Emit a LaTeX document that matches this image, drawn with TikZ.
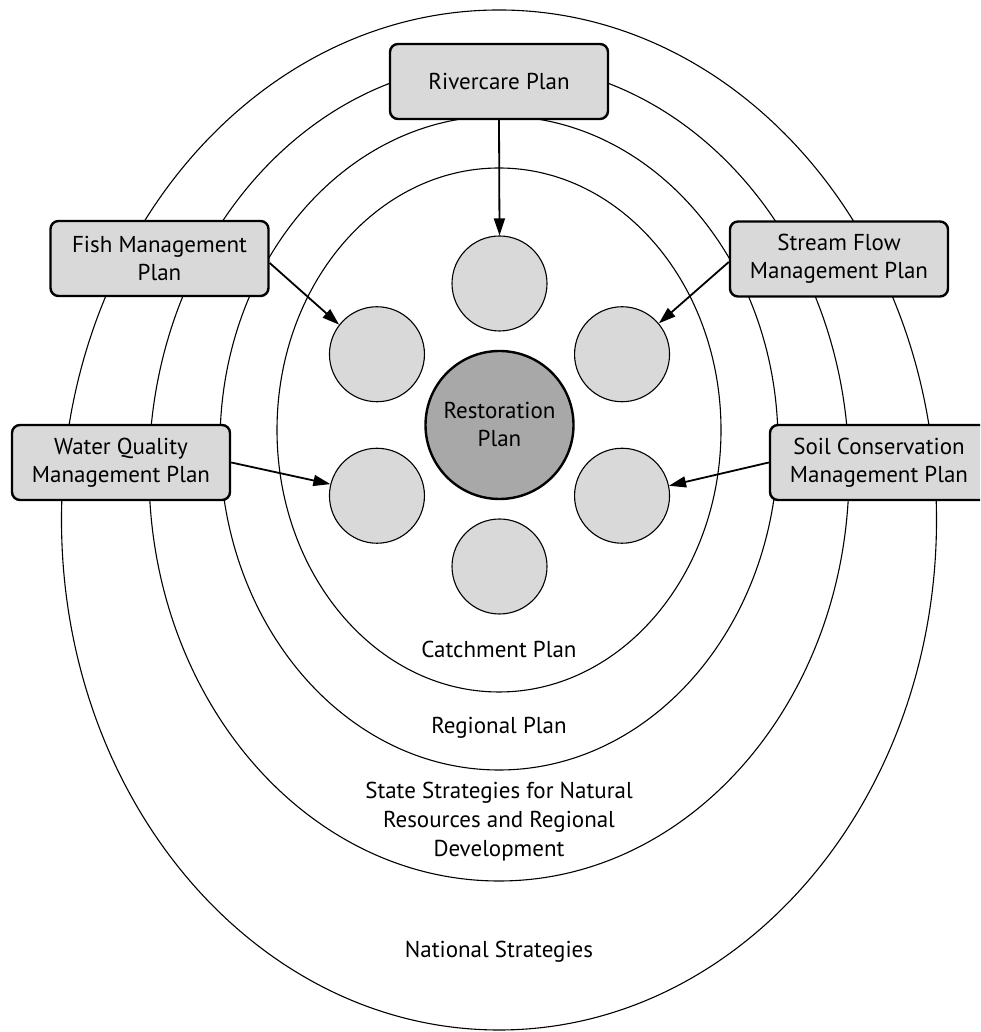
\documentclass[tikz,border=0pt]{standalone}
\usepackage{fontspec}
\setmainfont{PT Sans}
\usetikzlibrary{arrows.meta,calc}

\definecolor{boxgray}{HTML}{D9D9D9}
\definecolor{coregray}{HTML}{A8A8A8}

\tikzset{
  ring/.style={draw=black, line width=1.1pt},
  planbox/.style={draw=black, fill=boxgray, line width=2.4pt, rounded corners=8pt,
    minimum width=218pt, minimum height=75pt, align=center, inner sep=0pt,
    font=\fontsize{23}{28}\selectfont},
  spot/.style={circle, draw=black, fill=boxgray, line width=1.1pt, minimum size=95pt, inner sep=0pt},
  core/.style={circle, draw=black, fill=coregray, line width=2.4pt, minimum size=148pt, inner sep=0pt,
    align=center, font=\fontsize{23}{28}\selectfont},
  ringlabel/.style={align=center, inner sep=0pt, font=\fontsize{23}{29}\selectfont},
  feed/.style={line width=1.8pt, -{Triangle[length=17pt, width=11pt]}},
}

\begin{document}
\begin{tikzpicture}[x=1pt, y=1pt]
  \clip (0,0) rectangle (980,1032);
  \fill[white] (0,0) rectangle (980,1032);

  % nested planning levels
  \draw[ring] (499,512) ellipse [x radius=437.5, y radius=510];
  \draw[ring] (499,560) ellipse [x radius=350, y radius=409];
  \draw[ring] (499,589) ellipse [x radius=279, y radius=327];
  \draw[ring] (499,602) ellipse [x radius=222, y radius=262];

  % level labels
  \node[ringlabel] (catchlbl) at (499,383) {Catchment Plan};
  \node[ringlabel] (reglbl) at (499,304) {Regional Plan};
  \node[ringlabel] (statelbl) at (499,210) {State Strategies for Natural\\Resources and Regional\\Development};
  \node[ringlabel] (natlbl) at (499,80) {National Strategies};

  % restoration plan and its components
  \node[core] (rest) at (499.5,607) {Restoration\\Plan};
  \foreach \ang/\nm in {90/ctop, 150/cul, 210/cll, 270/cbot, 330/clr, 30/cur}
    \node[spot] (\nm) at ($(499.5,607)+(\ang:141.5)$) {};

  % contributing plans
  \node[planbox] (river) at (499,950.5) {Rivercare Plan};
  \node[planbox] (fish) at (159.5,773.5) {Fish Management\\Plan};
  \node[planbox] (stream) at (839,773) {Stream Flow\\Management Plan};
  \node[planbox] (water) at (121,569.5) {Water Quality\\Management Plan};
  \node[planbox] (soil) at (879,569.5) {Soil Conservation\\Management Plan};

  % feeds into the restoration plan
  \draw[feed] (river.south) -- (ctop.north);
  \draw[feed] ([yshift=-4.5pt]fish.east) -- (cul.142);
  \draw[feed] ([yshift=-3pt]stream.west) -- (cur.40);
  \draw[feed] (water.east) -- (cll.166);
  \draw[feed] (soil.west) -- (clr.12.5);
\end{tikzpicture}
\end{document}
